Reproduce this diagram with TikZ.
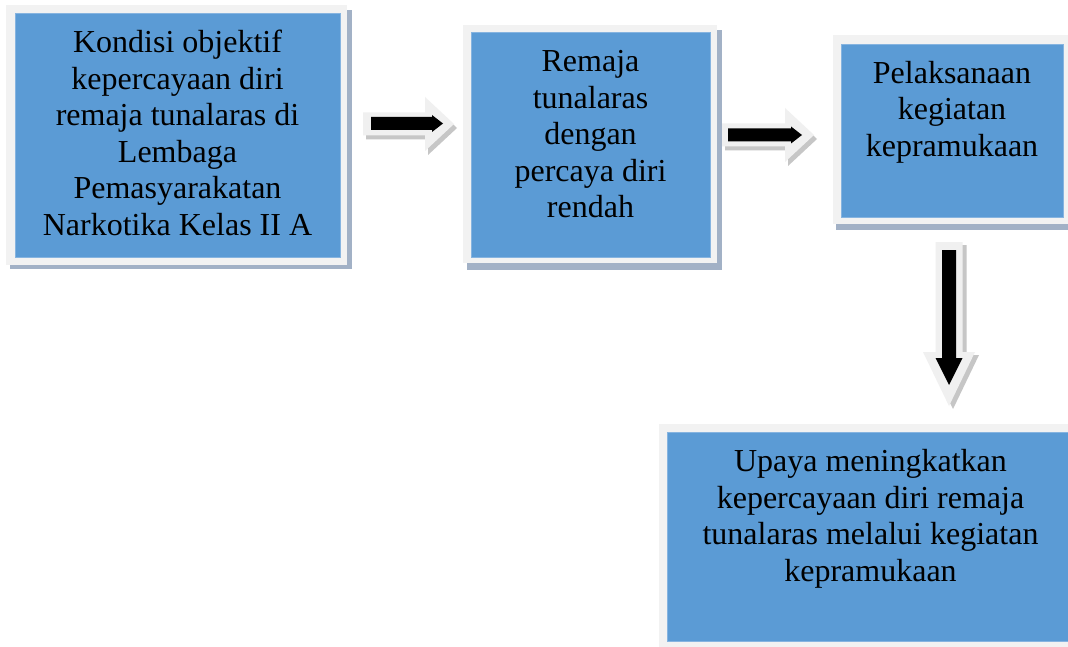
\documentclass[tikz,border=0pt]{standalone}
\usepackage{fontspec}
\setmainfont{Liberation Serif}
\definecolor{boxblue}{HTML}{5B9BD5}
\definecolor{boxedge}{HTML}{86B4E0}
\definecolor{framegray}{HTML}{F2F2F2}
\definecolor{shadowc}{HTML}{A2B1C6}
\definecolor{arrowgray}{HTML}{F0F0F0}
\definecolor{arrowshadow}{HTML}{C6C6C6}
\tikzset{
  rect/.style={rectangle, inner sep=0pt, outer sep=0pt, anchor=north west},
  shadowbox/.style={rect, fill=shadowc},
  framebox/.style={rect, fill=framegray},
  bluebox/.style={rect, fill=boxblue, draw=boxedge, line width=0.8pt},
  boxtext/.style={anchor=base, inner sep=0pt, font=\fontsize{32}{36.5}\selectfont},
  arrowbody/.style={fill=arrowgray},
  arrowshade/.style={fill=arrowshadow},
  arrowcore/.style={fill=black},
}
\begin{document}
\begin{tikzpicture}[x=1pt,y=-1pt]
\clip (0,0) rectangle (1068,647);
\fill[white] (0,0) rectangle (1068,647);

% Box 1
\node[shadowbox, minimum width=342pt, minimum height=259pt] (s1) at (10,10) {};
\node[framebox, minimum width=341pt, minimum height=260pt] (f1) at (6,5) {};
\node[bluebox, minimum width=325pt, minimum height=244pt] (b1) at (15,13) {};
\node[boxtext] (t1) at (177.5,53) {\parbox[t]{330pt}{\centering Kondisi objektif\\kepercayaan diri\\remaja tunalaras di\\Lembaga\\Pemasyarakatan\\Narkotika Kelas II A}};

% Box 2
\node[shadowbox, minimum width=255pt, minimum height=240pt] (s2) at (467,30) {};
\node[framebox, minimum width=254pt, minimum height=238pt] (f2) at (463,25) {};
\node[bluebox, minimum width=239pt, minimum height=225pt] (b2) at (471,32) {};
\node[boxtext] (t2) at (590.5,71.7) {\parbox[t]{230pt}{\centering Remaja\\tunalaras\\dengan\\percaya diri\\rendah}};

% Box 3
\node[shadowbox, minimum width=239pt, minimum height=190pt] (s3) at (836,40) {};
\node[framebox, minimum width=237pt, minimum height=189pt] (f3) at (833,35) {};
\node[bluebox, minimum width=222pt, minimum height=173pt] (b3) at (841,44) {};
\node[boxtext] (t3) at (952,83.3) {\parbox[t]{220pt}{\centering Pelaksanaan\\kegiatan\\kepramukaan}};

% Box 4
\node[shadowbox, minimum width=420pt, minimum height=230pt] (s4) at (663,429) {};
\node[framebox, minimum width=423pt, minimum height=230pt] (f4) at (659,424) {};
\node[bluebox, minimum width=407pt, minimum height=209pt] (b4) at (667,432) {};
\node[boxtext] (t4) at (870.5,471.7) {\parbox[t]{400pt}{\centering Upaya meningkatkan\\kepercayaan diri remaja\\tunalaras melalui kegiatan\\kepramukaan}};

% Arrow 1 (box 1 -> box 2)
\fill[arrowshade, shift={(3,4)}] (363,112.5) -- (425,112.5) -- (425,97) -- (454,124) -- (425,151) -- (425,135.5) -- (363,135.5) -- cycle;
\fill[arrowbody] (363,112.5) -- (425,112.5) -- (425,97) -- (454,124) -- (425,151) -- (425,135.5) -- (363,135.5) -- cycle;
\fill[arrowcore] (371,117) -- (432,117) -- (432,115) -- (443,123.5) -- (432,132) -- (432,130) -- (371,130) -- cycle;

% Arrow 2 (box 2 -> box 3)
\fill[arrowshade, shift={(3,4)}] (722,123.5) -- (785,123.5) -- (785,108) -- (814,135) -- (785,162) -- (785,146.5) -- (722,146.5) -- cycle;
\fill[arrowbody] (722,123.5) -- (785,123.5) -- (785,108) -- (814,135) -- (785,162) -- (785,146.5) -- (722,146.5) -- cycle;
\fill[arrowcore] (728,128.5) -- (791,128.5) -- (791,126.5) -- (802,135) -- (791,143.5) -- (791,141.5) -- (728,141.5) -- cycle;

% Arrow 3 (box 3 -> box 4)
\fill[arrowshade, shift={(4,3)}] (935.5,242) -- (962.5,242) -- (962.5,352) -- (975,352) -- (949,406) -- (923,352) -- (935.5,352) -- cycle;
\fill[arrowbody] (935.5,242) -- (962.5,242) -- (962.5,352) -- (975,352) -- (949,406) -- (923,352) -- (935.5,352) -- cycle;
\fill[arrowcore] (942,250) -- (956,250) -- (956,358) -- (962.5,358) -- (949,385) -- (935.5,358) -- (942,358) -- cycle;
\end{tikzpicture}
\end{document}
